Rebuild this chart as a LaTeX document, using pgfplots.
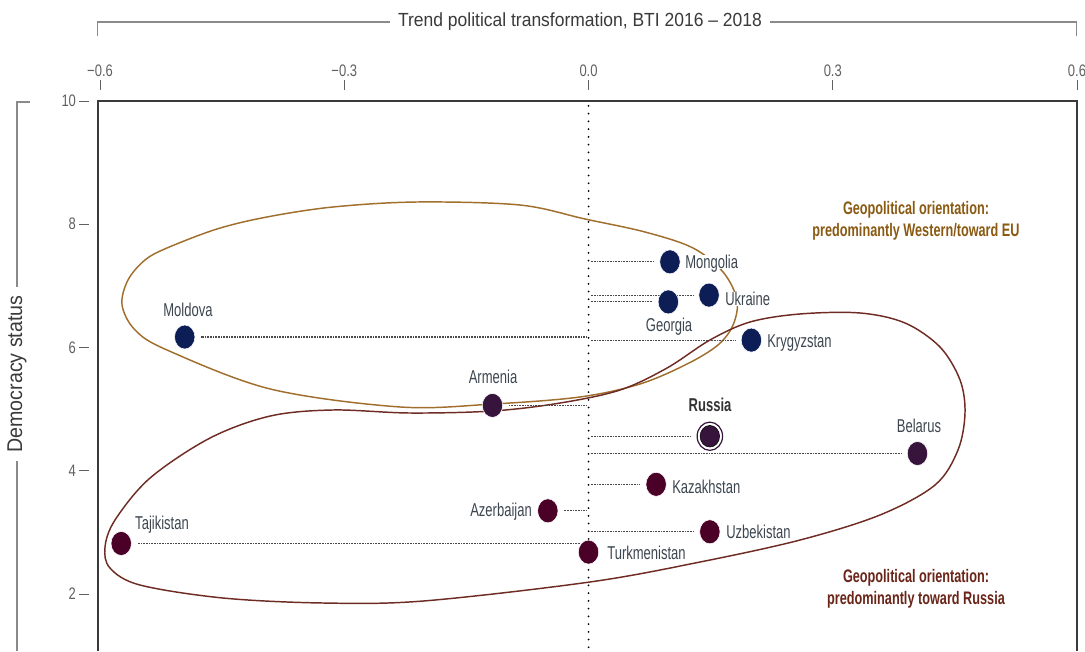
\documentclass[border=0pt]{standalone}
\usepackage{pgfplots}
\pgfplotsset{compat=1.18}
\usepackage{pgfplotstable}
\usepackage{fontspec}
\setmainfont{Liberation Sans}
\newfontfamily\condfont[FakeStretch=0.7]{Liberation Sans}
\newfontfamily\tickfont[FakeStretch=0.78]{Liberation Sans}
\newfontfamily\titlefont[FakeStretch=0.92]{Liberation Sans}
\definecolor{navy}{HTML}{0C1E55}
\definecolor{purp}{HTML}{37143C}
\definecolor{maro}{HTML}{4B0028}
\definecolor{goldc}{HTML}{A06E2D}
\definecolor{maroc}{HTML}{6E2C24}
\definecolor{labc}{HTML}{3C4650}
\definecolor{goldt}{HTML}{8A5A12}
\definecolor{marot}{HTML}{6A2418}
\definecolor{tickc}{HTML}{606060}
\definecolor{titc}{HTML}{3A3A3A}
\definecolor{brkc}{HTML}{8A8A8A}
\definecolor{boxc}{HTML}{3A3A3A}
\definecolor{connc}{HTML}{4A4A4A}

% Western-oriented: Moldova, Mongolia, Georgia, Ukraine, Krygyzstan
\pgfplotstableread{
x y
-0.496 6.17
0.100 7.39
0.098 6.74
0.148 6.85
0.200 6.12
}\westtab
% Armenia, Belarus
\pgfplotstableread{
x y
-0.118 5.06
0.404 4.28
}\purptab
% Russia
\pgfplotstableread{
x y
0.149 4.56
}\rustab
% Kazakhstan, Uzbekistan, Turkmenistan, Azerbaijan, Tajikistan
\pgfplotstableread{
x y
0.083 3.78
0.149 3.01
0.000 2.68
-0.050 3.35
-0.574 2.82
}\catab

\begin{document}
\begin{tikzpicture}[
  labs/.style={font=\condfont\fontsize{13.95}{16}\selectfont, text=labc, fill=white, inner sep=0pt, text height=10pt, text depth=0pt},
]
\begin{axis}[
  scale only axis, width=734.25pt, height=412.5pt,
  xmin=-0.6025, xmax=0.6, ymin=1.075, ymax=10,
  clip=false,
  axis line style={draw=none},
  xtick={-0.6,-0.3,0,0.3,0.6},
  xticklabels={−0.6,−0.3,0.0,0.3,0.6},
  ytick={2,4,6,8,10},
  yticklabels={2,4,6,8,10},
  xtick pos=right, xticklabel pos=right,
  ytick pos=left, yticklabel pos=left,
  tick align=outside,
  major tick length=7.5pt,
  tick style={draw=tickc, line width=0.7pt},
  xtick style={yshift=8.25pt},
  ytick style={xshift=-6.75pt},
  xticklabel style={yshift=7pt, font=\tickfont\fontsize{12.5}{14}\selectfont, text=tickc},
  yticklabel style={xshift=-5.5pt, font=\tickfont\fontsize{12.5}{14}\selectfont, text=tickc},
  conn/.style={connc, line width=0.8pt, dash pattern=on 0.6pt off 0.6pt, shorten <=1.5pt, shorten >=12pt, mark=none, forget plot},
]
% box (no bottom line: cut off)
\draw[boxc, line width=1.3pt] (rel axis cs:0,0) -- (rel axis cs:0,1) -- (rel axis cs:1,1) -- (rel axis cs:1,0);

% brackets and axis titles
\draw[brkc, line width=0.8pt] (-0.6037,11.055) -- (-0.6037,11.282) -- (0.5988,11.282) -- (0.5988,11.055);
\node[fill=white, inner xsep=6pt, inner ysep=2pt, font=\titlefont\fontsize{14.25}{16}\selectfont, text=titc] at (-0.0105,11.282) {Trend political transformation, BTI 2016 – 2018};
\draw[brkc, line width=0.8pt] (-0.686,9.984) -- (-0.702,9.984) -- (-0.702,1.075);
\node[rotate=90, fill=white, inner xsep=6pt, inner ysep=2pt, font=\titlefont\fontsize{16}{18}\selectfont, text=titc] at (-0.702,5.570) {Democracy status};

% enclosure curves
\draw[goldc, line width=1.1pt] plot[smooth cycle, tension=0.55] coordinates {
 (-0.5730,6.690) (-0.5657,7.095) (-0.5448,7.420) (-0.5177,7.615) (-0.4563,7.923)
 (-0.3949,8.118) (-0.3138,8.280) (-0.2107,8.361) (-0.0842,8.312) (-0.0043,8.085)
 (0.0694,7.874) (0.1283,7.615) (0.1652,7.225)
 (0.1824,6.771) (0.1775,6.365) (0.159,6.041) (0.121,5.732) (0.0632,5.408)
 (-0.0105,5.197) (-0.1173,5.083) (-0.2316,5.035) (-0.391,5.327) (-0.5177,5.959)
 (-0.557,6.284)};
\draw[maroc, line width=1.1pt] plot[smooth cycle, tension=0.55] coordinates {
 (0.3335,6.560) (0.3887,6.398) (0.4317,6.008) (0.4563,5.473) (0.4624,4.937)
 (0.4538,4.337) (0.4256,3.769) (0.358,3.282) (0.2598,2.876) (0.1369,2.519)
 (0.0018,2.195) (-0.2033,1.886) (-0.3261,1.854) (-0.449,1.935) (-0.551,2.146)
 (-0.5878,2.422) (-0.5939,2.763) (-0.5816,3.201) (-0.5386,3.882) (-0.4649,4.531)
 (-0.391,4.888) (-0.3138,4.986) (-0.2193,4.937) (-0.1173,4.970) (-0.035,5.099)
 (0.0387,5.310) (0.0964,5.667) (0.1492,6.122) (0.1984,6.414) (0.2598,6.544)};

% dotted connectors to the zero line
\addplot[conn] coordinates {(0,6.17) (-0.496,6.17)};
\addplot[conn] coordinates {(0,7.39) (0.100,7.39)};
\addplot[conn] coordinates {(0,6.74) (0.098,6.74)};
\addplot[conn] coordinates {(0,6.85) (0.148,6.85)};
\addplot[conn] coordinates {(0,6.12) (0.200,6.12)};
\addplot[conn] coordinates {(0,5.06) (-0.118,5.06)};
\addplot[conn] coordinates {(0,4.28) (0.404,4.28)};
\addplot[conn, shorten >=15pt] coordinates {(0,4.56) (0.149,4.56)};
\addplot[conn] coordinates {(0,3.78) (0.083,3.78)};
\addplot[conn] coordinates {(0,3.01) (0.149,3.01)};
\addplot[conn] coordinates {(0,3.35) (-0.050,3.35)};
\addplot[conn] coordinates {(0,2.82) (-0.574,2.82)};

% zero line
\addplot[black, line width=1.5pt, line cap=round, dash pattern=on 0pt off 5.8pt, mark=none, forget plot] coordinates {(0,9.92) (0,1.075)};

% markers
\addplot[only marks, mark=*, mark size=9pt, mark options={xscale=0.85, fill=navy, draw=white, line width=0.4pt}] table {\westtab};
\addplot[only marks, mark=*, mark size=9pt, mark options={xscale=0.85, fill=purp, draw=white, line width=0.4pt}] table {\purptab};
\addplot[only marks, mark=*, mark size=10.6pt, mark options={xscale=0.9, fill=white, draw=purp, line width=0.9pt}] table {\rustab};
\addplot[only marks, mark=*, mark size=8.1pt, mark options={xscale=0.9, fill=purp, draw=none}] table {\rustab};
\addplot[only marks, mark=*, mark size=9pt, mark options={xscale=0.85, fill=maro, draw=white, line width=0.4pt}] table {\catab};

% country labels
\node[labs, anchor=center] at (-0.4920,6.609) {Moldova};
\node[labs, anchor=center] at (-0.1173,5.521) {Armenia};
\node[labs, anchor=west] at (0.1185,7.387) {Mongolia};
\node[labs, anchor=west] at (0.1676,6.787) {Ukraine};
\node[labs, anchor=center] at (0.0989,6.365) {Georgia};
\node[labs, anchor=west] at (0.2192,6.106) {Krygyzstan};
\node[labs, anchor=center, text=black!80] at (0.1492,5.067) {\bfseries Russia};
\node[labs, anchor=center] at (0.4059,4.726) {Belarus};
\node[labs, anchor=west] at (0.1025,3.736) {Kazakhstan};
\node[labs, anchor=west] at (0.1689,3.006) {Uzbekistan};
\node[labs, anchor=west] at (0.0227,2.665) {Turkmenistan};
\node[labs, anchor=east] at (-0.0694,3.363) {Azerbaijan};
\node[labs, anchor=west] at (-0.5571,3.152) {Tajikistan};

% group annotations
\node[align=center, inner sep=0pt, font=\condfont\bfseries\fontsize{13.6}{16.5}\selectfont, text=goldt] at (0.4022,8.061) {Geopolitical orientation:\\predominantly Western/toward EU};
\node[align=center, inner sep=0pt, font=\condfont\bfseries\fontsize{13.6}{16.5}\selectfont, text=marot] at (0.4022,2.089) {Geopolitical orientation:\\predominantly toward Russia};

% bounding box corners (image frame)
\coordinate (bbsw) at (-0.7229,1.075);
\coordinate (bbne) at (0.6098,11.639);
\end{axis}
\pgfresetboundingbox
\useasboundingbox (bbsw) rectangle (bbne);
\end{tikzpicture}
\end{document}
